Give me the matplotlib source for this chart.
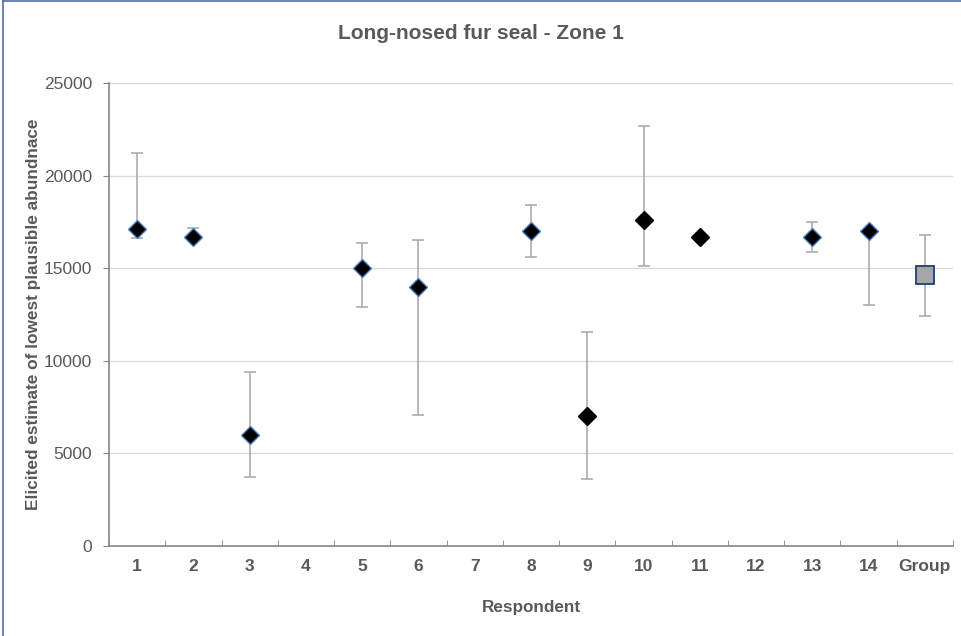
import numpy as np
import matplotlib
matplotlib.use('Agg')
import matplotlib.pyplot as plt
from matplotlib.lines import Line2D

plt.rcParams['font.family'] = ['Liberation Sans', 'DejaVu Sans']

## -- data
respondents = ['1', '2', '3', '4', '5', '6', '7', '8', '9', '10', '11', '12', '13', '14', 'Group']
best = [17100, 16700, 6000, np.nan, 15000, 14000, np.nan, 17000, 7000, 17600, 16700, np.nan, 16700, 17000, 14650]
upper = [21200, 17170, 9400, np.nan, 16350, 16500, np.nan, 18400, 11550, 22700, 16700, np.nan, 17480, 17000, 16800]
lower = [16650, 16700, 3750, np.nan, 12900, 7100, np.nan, 15600, 3600, 15100, 16700, np.nan, 15900, 13000, 12400]
# respondents drawn with the blue-edged diamond
edged = ['1', '2', '3', '5', '6', '8', '13', '14']

x = np.arange(len(respondents))
best = np.array(best, dtype=float)
upper = np.array(upper, dtype=float)
lower = np.array(lower, dtype=float)

fig = plt.figure(figsize=(9.62, 6.36), dpi=100)
ax = fig.add_axes([0.1133, 0.1415, 0.8773, 0.728])

grey = '#595959'
ax.yaxis.grid(True, color='#d9d9d9', lw=0.9)
ax.set_axisbelow(True)

# error bars
err = np.vstack([best - lower, upper - best])
ax.errorbar(x, best, yerr=err, fmt='none', ecolor='#a6a6a6', elinewidth=1.1,
            capsize=4, capthick=1.1, zorder=2)

# individual respondents
for i, r in enumerate(respondents[:-1]):
    if np.isnan(best[i]):
        continue
    ec = '#4a7ebb' if r in edged else 'black'
    ax.plot(x[i], best[i], marker='D', ms=9, mfc='black', mec=ec, mew=1.0, ls='none', zorder=3)

# group estimate
ax.plot(x[-1], best[-1], marker='s', ms=13, mfc='#a6a6a6', mec='#1f3f7a', mew=1.3, ls='none', zorder=3)

ax.set_xlim(-0.5, len(respondents) - 0.5)
ax.set_ylim(0, 25000)
ax.set_yticks(np.arange(0, 25001, 5000))
ax.set_xticks(x)
ax.set_xticklabels(respondents, fontsize=12.5, fontweight='bold', color=grey)
ax.set_xticks(np.arange(-0.5, len(respondents)), minor=True)
ax.tick_params(axis='x', which='major', length=0, pad=9)
ax.tick_params(axis='x', which='minor', direction='in', length=4, color='#868686')
ax.tick_params(axis='y', labelsize=12.5, labelcolor=grey, length=4, color='#868686', pad=8)

for s in ['top', 'right']:
    ax.spines[s].set_visible(False)
for s in ['left', 'bottom']:
    ax.spines[s].set_color('#868686')
    ax.spines[s].set_linewidth(1.2)

fig.text(0.5, 0.948, 'Long-nosed fur seal - Zone 1', fontsize=15, fontweight='bold', color=grey,
         ha='center', va='center')
ax.set_xlabel('Respondent', fontsize=12.3, fontweight='bold', color=grey, labelpad=19)
ax.set_ylabel('Elicited estimate of lowest plausible abundnace', fontsize=12.4, fontweight='bold',
              color=grey)
ax.yaxis.set_label_coords(-0.0806, 0.5)

# chart frame (top and left edges visible)
fig.add_artist(Line2D([0.003, 1.0], [0.998, 0.998], color='#4f6fa8', lw=1.2, transform=fig.transFigure))
fig.add_artist(Line2D([0.003, 0.003], [0.0, 0.998], color='#4f6fa8', lw=1.2, transform=fig.transFigure))

fig.savefig('out.png', dpi=100)
